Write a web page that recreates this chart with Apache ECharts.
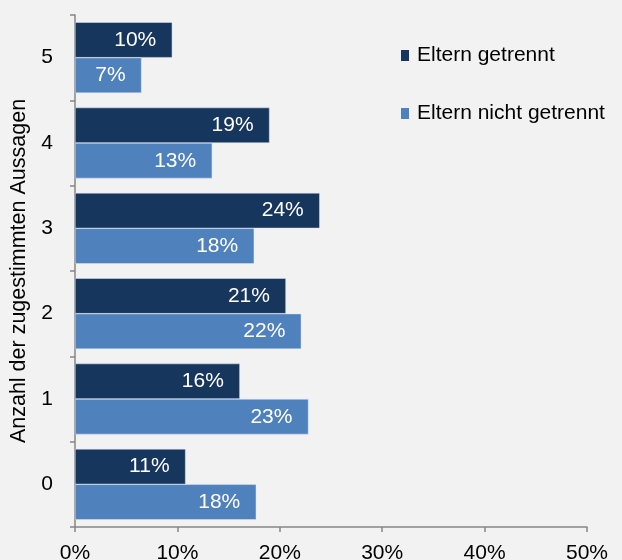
<!DOCTYPE html>
<html>
<head>
    <meta charset="utf-8">
    <title>Zugestimmte Aussagen</title>
    <script src="https://cdn.jsdelivr.net/npm/echarts@6/dist/echarts.min.js"></script>
    <style>
        html, body { margin: 0; padding: 0; background: #f2f2f2; }
        #container { width: 622px; height: 560px; }
    </style>
</head>
<body>
<div id="container"></div>
<script>
    // Daten (in %), Kategorien von unten nach oben
    var categories = ['0', '1', '2', '3', '4', '5'];
    var getrennt = [10.8, 16.1, 20.6, 23.9, 19.0, 9.5];
    var nichtGetrennt = [17.7, 22.8, 22.1, 17.5, 13.4, 6.5];
    var xTicks = [0, 10, 20, 30, 40, 50];

    var font = 'Liberation Sans, Arial, sans-serif';
    var axisGrey = '#868686';

    var myChart = echarts.init(document.getElementById('container'), null, {renderer: 'canvas'});

    var barLabel = {
        show: true,
        position: 'insideRight',
        distance: 16,
        color: '#ffffff',
        fontFamily: font,
        fontSize: 21,
        formatter: function (p) {
            return Math.round(p.value) + '%';
        }
    };

    var option = {
        backgroundColor: '#f2f2f2',
        animation: false,
        // Achse bleibt fest, Beschriftungen unten dürfen abgeschnitten werden
        grid: {left: 75, right: 35, top: 15, bottom: 33, outerBoundsMode: 'none', containLabel: false},
        legend: {
            data: ['Eltern getrennt', 'Eltern nicht getrennt'],
            orient: 'vertical',
            left: 396,
            top: 40,
            itemGap: 37,
            itemWidth: 8,
            itemHeight: 11,
            icon: 'rect',
            itemStyle: {borderWidth: 0},
            textStyle: {fontFamily: font, fontSize: 21, color: '#000', padding: [0, 0, 0, 3]}
        },
        xAxis: {
            type: 'value',
            min: xTicks[0],
            max: xTicks[xTicks.length - 1],
            interval: 10,
            splitLine: {show: false},
            axisLine: {show: true, lineStyle: {color: axisGrey, width: 1.5}},
            axisTick: {show: true, length: 5, lineStyle: {color: axisGrey, width: 1.5}},
            axisLabel: {
                margin: 16,
                color: '#000',
                fontFamily: font,
                fontSize: 21,
                formatter: '{value}%'
            }
        },
        yAxis: {
            type: 'category',
            data: categories,
            name: 'Anzahl der zugestimmten Aussagen',
            nameLocation: 'middle',
            nameRotate: 90,
            nameGap: 38,
            nameTextStyle: {fontFamily: font, fontSize: 21.5, color: '#000'},
            axisLine: {show: true, lineStyle: {color: axisGrey, width: 1.5}},
            axisTick: {show: true, length: 5, lineStyle: {color: axisGrey, width: 1.5}},
            axisLabel: {margin: 22, color: '#000', fontFamily: font, fontSize: 21}
        },
        series: [
            {
                name: 'Eltern getrennt',
                type: 'bar',
                data: getrennt,
                barGap: '0%',
                barCategoryGap: '17%',
                itemStyle: {color: '#17365d', borderColor: '#dce6f2', borderWidth: 0.5},
                label: barLabel
            },
            {
                name: 'Eltern nicht getrennt',
                type: 'bar',
                data: nichtGetrennt,
                barGap: '0%',
                barCategoryGap: '17%',
                itemStyle: {color: '#4f81bd', borderColor: '#dce6f2', borderWidth: 0.5},
                label: barLabel
            }
        ]
    };

    myChart.setOption(option);
</script>
</body>
</html>
